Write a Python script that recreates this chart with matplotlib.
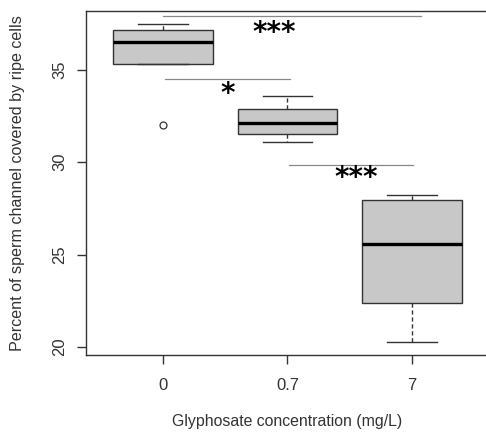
import matplotlib
matplotlib.use("Agg")
import matplotlib.pyplot as plt

# values
groups = ["0", "0.7", "7"]
whislo = [35.31, 31.09, 20.29]
q1 = [35.31, 31.52, 22.40]
med = [36.48, 32.13, 25.56]
q3 = [37.13, 32.90, 27.96]
whishi = [37.47, 33.58, 28.25]
fliers = [[32.02], [], []]

# pairwise comparisons: (x start, x end, line y, label, label x, label y)
comp_x0 = [1.0, 1.02, 2.01]
comp_x1 = [3.07, 2.02, 3.01]
comp_y = [37.89, 34.51, 29.84]
comp_label = ["***", "*", "***"]
comp_tx = [1.89, 1.52, 2.55]
comp_ty = [37.0, 33.7, 29.15]

plt.rcParams["font.family"] = ["Liberation Sans", "DejaVu Sans"]

fig = plt.figure(figsize=(4.86, 4.34), dpi=100)
ax = fig.add_axes([0.176, 0.182, 0.831, 0.793])

stats = []
for i in range(len(groups)):
    stats.append({"whislo": whislo[i], "q1": q1[i], "med": med[i], "q3": q3[i],
                  "whishi": whishi[i], "fliers": fliers[i], "label": groups[i]})

ax.bxp(stats, positions=[1, 2, 3], widths=0.8, patch_artist=True,
       boxprops=dict(facecolor="#c8c8c8", edgecolor="#333333", linewidth=1.0),
       medianprops=dict(color="black", linewidth=2.4),
       whiskerprops=dict(color="#333333", linewidth=1.0, linestyle=(0, (3, 2))),
       capprops=dict(color="#333333", linewidth=1.0),
       flierprops=dict(marker="o", markersize=5, markerfacecolor="none",
                       markeredgecolor="#333333", markeredgewidth=0.9),
       capwidths=0.4)

for x0, x1, y, lab, tx, ty in zip(comp_x0, comp_x1, comp_y, comp_label, comp_tx, comp_ty):
    ax.plot([x0, x1], [y, y], color="#888888", linewidth=0.9)
    ax.text(tx, ty, lab, fontsize=20, fontweight="bold", ha="center", va="center",
            color="black", family="DejaVu Sans")

ax.set_xlim(0.38, 3.62)
ax.set_ylim(19.57, 38.19)
ax.set_yticks([20, 25, 30, 35])
ax.set_yticklabels(["20", "25", "30", "35"], rotation=90, va="center")
ax.set_xticks([1, 2, 3])
ax.set_xticklabels(groups)
ax.tick_params(direction="out", length=6.5, width=1.0, color="#333333",
               labelsize=12, labelcolor="#333333")
ax.tick_params(axis="y", pad=6.5)
ax.tick_params(axis="x", pad=10)
for s in ax.spines.values():
    s.set_color("#333333")
    s.set_linewidth(1.0)

ax.set_xlabel("Glyphosate concentration (mg/L)", fontsize=11.4, color="#333333")
ax.set_ylabel("Percent of sperm channel covered by ripe cells", fontsize=11.6,
              color="#333333")
ax.xaxis.set_label_coords(0.5, -0.172)
ax.yaxis.set_label_coords(-0.15, 0.5)

fig.savefig("out.png", dpi=100)
